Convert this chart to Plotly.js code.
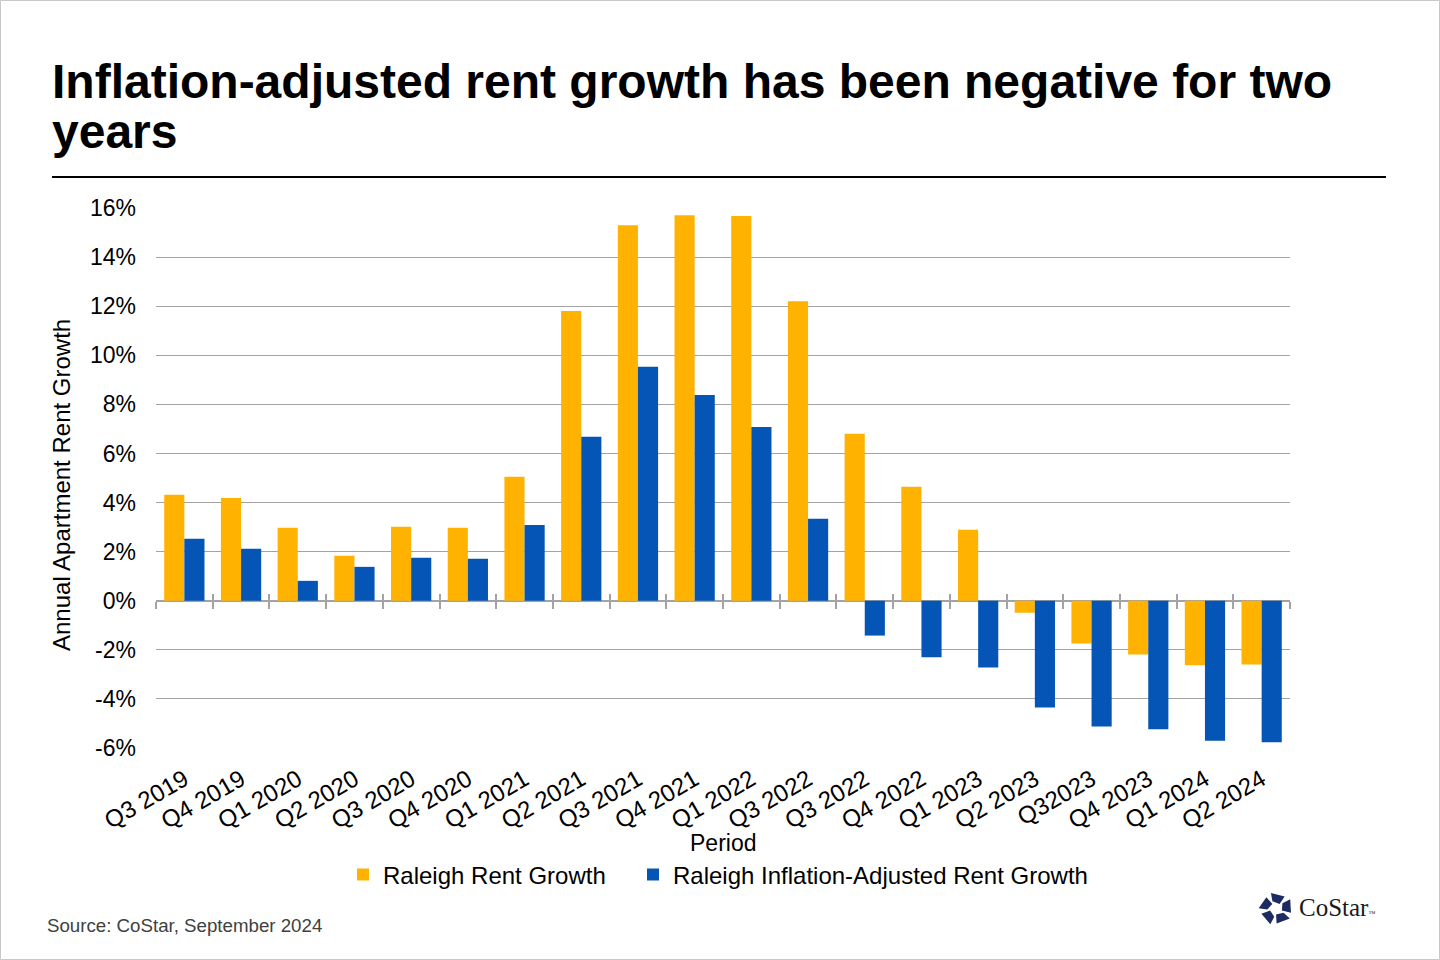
<!DOCTYPE html>
<html>
<head>
<meta charset="utf-8">
<script src="https://cdn.plot.ly/plotly-3.0.1.min.js"></script>
<style>
  html, body { margin: 0; padding: 0; background: #fff; }
  #chart { width: 1440px; height: 960px; }
</style>
</head>
<body>
<div id="chart"></div>
<script>
// ── Dados ─────────────────────────────────────────────────
const periods = [
  'Q3 2019', 'Q4 2019', 'Q1 2020', 'Q2 2020', 'Q3 2020', 'Q4 2020',
  'Q1 2021', 'Q2 2021', 'Q3 2021', 'Q4 2021', 'Q1 2022', 'Q3 2022',
  'Q3 2022', 'Q4 2022', 'Q1 2023', 'Q2 2023', 'Q32023', 'Q4 2023',
  'Q1 2024', 'Q2 2024',
];
const rentGrowth = [
  4.32, 4.19, 2.97, 1.83, 3.01, 2.97, 5.05, 11.8, 15.3, 15.7,
  15.67, 12.2, 6.8, 4.64, 2.89, -0.49, -1.74, -2.19, -2.63, -2.6,
];
const realRentGrowth = [
  2.52, 2.12, 0.81, 1.38, 1.75, 1.71, 3.09, 6.68, 9.53, 8.38,
  7.08, 3.34, -1.42, -2.3, -2.72, -4.35, -5.12, -5.24, -5.70, -5.77,
];
const yTicks = [-6, -4, -2, 0, 2, 4, 6, 8, 10, 12, 14, 16];
const yTickText = yTicks.map((v) => `${v}%`);

const ORANGE = '#FFB200';
const BLUE   = '#0455B5';
const GRID   = '#a3a3a3';
const FONT   = 'Liberation Sans, Arial, sans-serif';

// ── Geometria da página (px) ──────────────────────────────
const W = 1440, H = 960;
const M = { l: 156, r: 150, t: 208, b: 212 };
const plotW = W - M.l - M.r;
const plotH = H - M.t - M.b;
const px = (x) => (x - M.l) / plotW;           // px → paper x
const py = (y) => (H - M.b - y) / plotH;       // px → paper y

const idx = periods.map((_, i) => i);
const bounds = [...idx.map((i) => i - 0.5), periods.length - 0.5];
const xRange = [-0.5, periods.length - 0.5];
const zeroPos = (0 - yTicks[0]) / (yTicks[yTicks.length - 1] - yTicks[0]);

// ── Traces ────────────────────────────────────────────────
const traces = [
  {
    type: 'bar', x: idx, y: rentGrowth,
    name: 'Raleigh Rent Growth', legend: 'legend',
    marker: { color: ORANGE, line: { width: 0 } },
    hovertemplate: '%{y:.1f}%<extra></extra>',
  },
  {
    type: 'bar', x: idx, y: realRentGrowth,
    name: 'Raleigh Inflation-Adjusted Rent Growth', legend: 'legend2',
    marker: { color: BLUE, line: { width: 0 } },
    hovertemplate: '%{y:.1f}%<extra></extra>',
  },
  // traces invisíveis só para desenhar os ticks cruzando o eixo zero
  { type: 'scatter', x: xRange, y: [0, 0], xaxis: 'x2', mode: 'none', showlegend: false, hoverinfo: 'skip' },
  { type: 'scatter', x: xRange, y: [0, 0], xaxis: 'x3', mode: 'none', showlegend: false, hoverinfo: 'skip' },
];

const tickAxis = (side) => ({
  overlaying: 'x', anchor: 'free', position: zeroPos,
  range: xRange, tickmode: 'array', tickvals: bounds,
  ticks: side, ticklen: 7, tickwidth: 2, tickcolor: GRID,
  showticklabels: false, showgrid: false, zeroline: false, showline: false,
  fixedrange: true,
});

const legendAt = (xPx) => ({
  orientation: 'h', x: px(xPx), xanchor: 'left', y: py(875), yanchor: 'middle',
  font: { size: 24, color: '#000' }, bgcolor: 'rgba(0,0,0,0)',
});

const layout = {
  width: W, height: H,
  margin: M,
  paper_bgcolor: '#fff', plot_bgcolor: '#fff',
  font: { family: FONT, color: '#000', size: 23 },
  barmode: 'group', bargap: 0.29, bargroupgap: 0,
  showlegend: true,
  legend: legendAt(343),
  legend2: legendAt(633),
  xaxis: {
    range: xRange, tickmode: 'array', tickvals: idx, ticktext: periods,
    tickangle: -30, ticks: '', showgrid: false, zeroline: false, showline: false,
    tickfont: { size: 24, color: '#000' }, ticklabelstandoff: 12,
  },
  xaxis2: tickAxis('outside'),
  xaxis3: tickAxis('inside'),
  yaxis: {
    range: [yTicks[0], yTicks[yTicks.length - 1]],
    tickmode: 'array', tickvals: yTicks, ticktext: yTickText,
    showgrid: true, gridcolor: GRID, gridwidth: 1,
    zeroline: true, zerolinecolor: GRID, zerolinewidth: 2,
    showline: false, ticks: '',
    tickfont: { size: 23, color: '#000' }, ticklabelstandoff: 19,
  },
  annotations: [
    { text: '<b>Inflation-adjusted rent growth has been negative for two</b>',
      xref: 'paper', yref: 'paper', x: px(50), y: py(82), xanchor: 'left', yanchor: 'middle',
      showarrow: false, font: { size: 48, color: '#000' } },
    { text: '<b>years</b>',
      xref: 'paper', yref: 'paper', x: px(50), y: py(132), xanchor: 'left', yanchor: 'middle',
      showarrow: false, font: { size: 48, color: '#000' } },
    { text: 'Annual Apartment Rent Growth', textangle: -90,
      xref: 'paper', yref: 'paper', x: px(61), y: py(485), xanchor: 'center', yanchor: 'middle',
      showarrow: false, font: { size: 24, color: '#000' } },
    { text: 'Period',
      xref: 'paper', yref: 'paper', x: 0.5, y: py(843), xanchor: 'center', yanchor: 'middle',
      showarrow: false, font: { size: 23, color: '#000' } },
    { text: 'Source: CoStar, September 2024',
      xref: 'paper', yref: 'paper', x: px(45), y: py(925), xanchor: 'left', yanchor: 'middle',
      showarrow: false, font: { size: 18.7, color: '#404040' } },
    { text: 'CoStar<span style="font-size:7px">™</span>',
      xref: 'paper', yref: 'paper', x: px(1297), y: py(907), xanchor: 'left', yanchor: 'middle',
      showarrow: false, font: { size: 25, color: '#1a1a1a', family: 'Liberation Serif, DejaVu Serif, serif' } },
  ],
  shapes: [
    { type: 'line', xref: 'paper', yref: 'paper',
      x0: px(52), x1: px(1386), y0: py(177), y1: py(177),
      line: { color: '#000', width: 2 } },
    { type: 'rect', xref: 'paper', yref: 'paper',
      x0: px(0.5), x1: px(W - 0.5), y0: py(H - 0.5), y1: py(0.5),
      line: { color: '#c8c8c8', width: 1 } },
  ],
};

// ── Logo (pinwheel) como SVG inline ──────────────────────
const piece = '<polygon points="36,6 74,16 60,38 40,30" fill="#1d2b63"/>';
const pieces = [0, 1, 2, 3, 4]
  .map((k) => `<g transform="rotate(${k * 72} 50 52)">${piece}</g>`).join('');
const logoSvg = `<svg xmlns="http://www.w3.org/2000/svg" viewBox="0 0 100 100">${pieces}</svg>`;
layout.images = [{
  source: 'data:image/svg+xml;charset=utf-8,' + encodeURIComponent(logoSvg),
  xref: 'paper', yref: 'paper', x: px(1258), y: py(891),
  sizex: 36 / plotW, sizey: 34 / plotH, xanchor: 'left', yanchor: 'top',
  sizing: 'stretch', layer: 'above',
}];

Plotly.newPlot('chart', traces, layout, { displayModeBar: false, staticPlot: true });
</script>
</body>
</html>
